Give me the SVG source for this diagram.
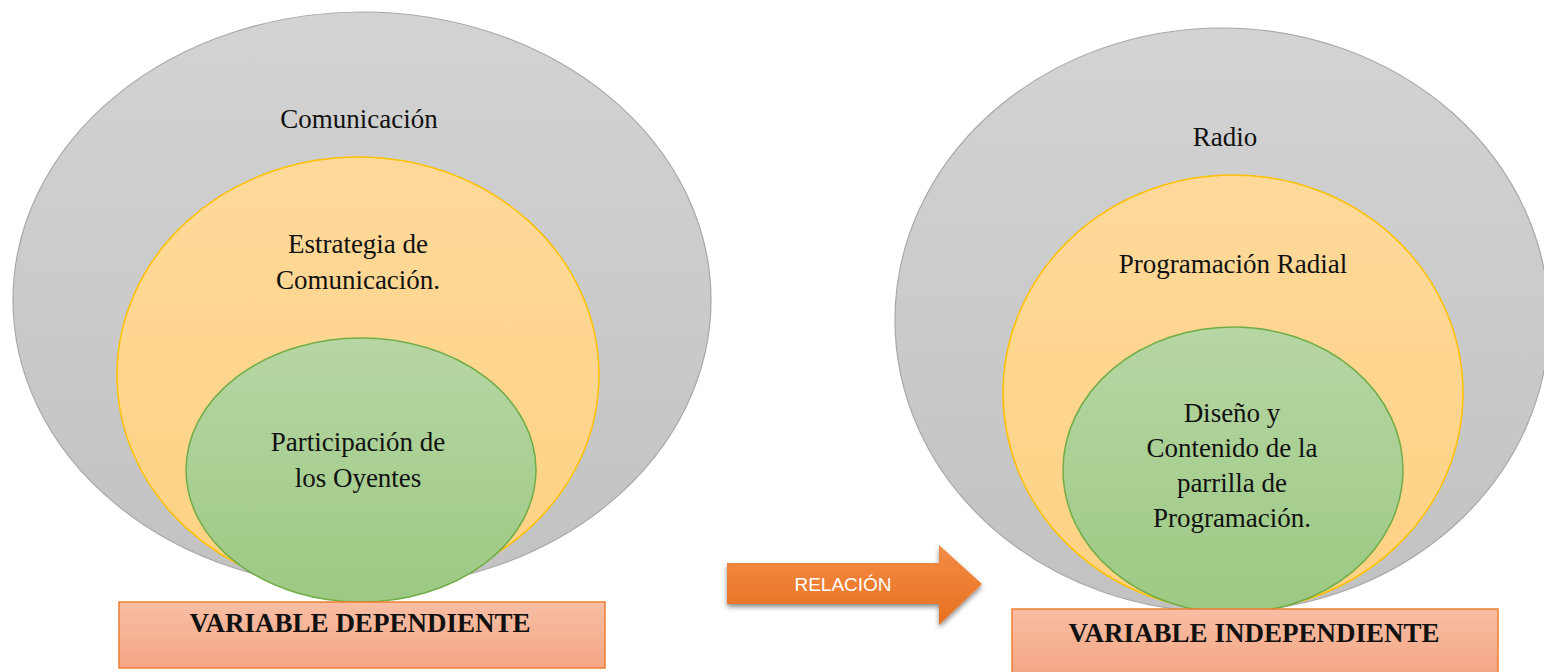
<svg xmlns="http://www.w3.org/2000/svg" width="1544" height="672" viewBox="0 0 1544 672">
<defs>
<linearGradient id="gGray" x1="0" y1="0" x2="0" y2="1"><stop offset="0" stop-color="#d3d3d3"/><stop offset="1" stop-color="#c2c2c2"/></linearGradient>
<linearGradient id="gYel" x1="0" y1="0" x2="0" y2="1"><stop offset="0" stop-color="#fed99a"/><stop offset="1" stop-color="#fed283"/></linearGradient>
<linearGradient id="gGrn" x1="0" y1="0" x2="0" y2="1"><stop offset="0" stop-color="#b6d6a3"/><stop offset="1" stop-color="#9dc984"/></linearGradient>
<linearGradient id="gBox" x1="0" y1="0" x2="0" y2="1"><stop offset="0" stop-color="#f8bea4"/><stop offset="1" stop-color="#f4a684"/></linearGradient>
<linearGradient id="gArr" x1="0" y1="0" x2="0" y2="1"><stop offset="0" stop-color="#f28c45"/><stop offset="1" stop-color="#e8701f"/></linearGradient>
<filter id="sh" x="-20%" y="-20%" width="140%" height="160%"><feDropShadow dx="0" dy="3" stdDeviation="2.5" flood-color="#000" flood-opacity="0.45"/></filter>
<style>
.gray{fill:url(#gGray);stroke:#a8a8a8;stroke-width:1.2}
.yel{fill:url(#gYel);stroke:#ffc000;stroke-width:1.5}
.grn{fill:url(#gGrn);stroke:#70ad47;stroke-width:1.5}
.box{fill:url(#gBox);stroke:#ed7d31;stroke-width:1.5}
.t{font-family:"Liberation Serif","Times New Roman",serif;font-size:27px;fill:#111;text-anchor:middle}
.tb{font-family:"Liberation Serif","Times New Roman",serif;font-size:27px;font-weight:bold;fill:#111;text-anchor:middle}
.ta{font-family:"Liberation Sans",Arial,sans-serif;font-size:19px;fill:#fff;text-anchor:middle}
</style>
</defs>
<g id="left-comunicacion">
<ellipse class="gray" cx="362" cy="300" rx="349" ry="288"/>
<text class="t" x="359" y="128">Comunicación</text>
</g>
<g id="left-estrategia">
<ellipse class="yel" cx="358" cy="375" rx="241" ry="218"/>
<text class="t" x="358" y="253">Estrategia de</text>
<text class="t" x="358" y="289">Comunicación.</text>
</g>
<g id="left-participacion">
<ellipse class="grn" cx="361" cy="470" rx="175" ry="132"/>
<text class="t" x="358" y="451">Participación de</text>
<text class="t" x="358" y="487">los Oyentes</text>
</g>
<g id="box-dependiente">
<rect class="box" x="119" y="602" width="486" height="66"/>
<text class="tb" x="360" y="632">VARIABLE DEPENDIENTE</text>
</g>
<g id="right-radio">
<ellipse class="gray" cx="1222" cy="320" rx="327" ry="292"/>
<text class="t" x="1225" y="146">Radio</text>
</g>
<g id="right-programacion">
<ellipse class="yel" cx="1233" cy="393" rx="230" ry="218"/>
<text class="t" x="1233" y="273">Programación Radial</text>
</g>
<g id="right-diseno">
<ellipse class="grn" cx="1233" cy="470" rx="170" ry="143"/>
<text class="t" x="1232" y="422">Diseño y</text>
<text class="t" x="1232" y="457">Contenido de la</text>
<text class="t" x="1232" y="492">parrilla de</text>
<text class="t" x="1232" y="527">Programación.</text>
</g>
<g id="box-independiente">
<rect class="box" x="1012" y="609" width="486" height="66"/>
<text class="tb" x="1254" y="642">VARIABLE INDEPENDIENTE</text>
</g>
<g id="connectors">
<g id="relacion-arrow">
<path d="M727 563 H939 V545 L982 584 L939 625 V604 H727 Z" fill="url(#gArr)" filter="url(#sh)"/>
<text class="ta" x="843" y="591">RELACIÓN</text>
</g>
</g>
</svg>
